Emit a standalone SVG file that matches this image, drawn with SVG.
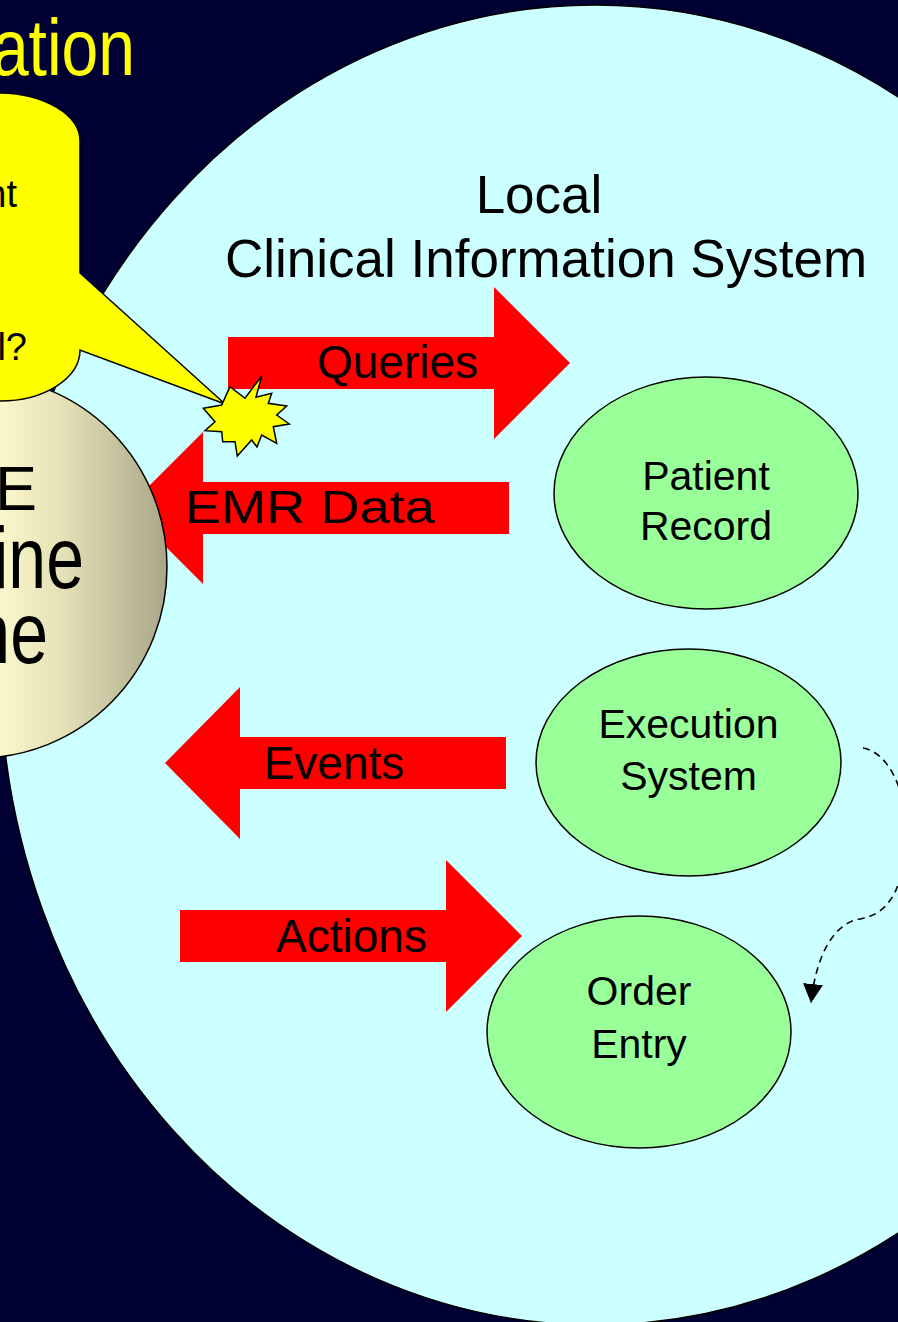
<svg xmlns="http://www.w3.org/2000/svg" width="898" height="1322" viewBox="0 0 898 1322">
<style>
text{font-family:"Liberation Sans",Arial,sans-serif;fill:#000}
.blk{fill:#FF0000;stroke:none}
.lbl{font-size:46px}
.green{fill:#99FF99;stroke:#000;stroke-width:1.5}
.gt{font-size:41px;text-anchor:middle}
.yel{fill:#FFFF00;stroke:#000;stroke-width:1.5;stroke-linejoin:miter}
</style>
<defs>
<linearGradient id="beige" gradientUnits="userSpaceOnUse" x1="0" y1="0" x2="170" y2="0">
<stop offset="0" stop-color="#FAF7CB"/>
<stop offset="0.35" stop-color="#E6E2B8"/>
<stop offset="1" stop-color="#A8A588"/>
</linearGradient>
<marker id="ah" markerWidth="20" markerHeight="20" viewBox="0 0 20 20" refX="19" refY="10" orient="auto" markerUnits="userSpaceOnUse">
<path d="M0,0 L19,10 L0,20 Z" fill="#000"/>
</marker>
</defs>
<rect x="0" y="0" width="898" height="1322" fill="#000033"/>
<g id="title">
<text x="0" y="0" font-size="66" text-anchor="end" style="fill:#FFFF00" transform="translate(135,75) scale(1,1.22)">ation</text>
</g>
<g id="local-cis">
<ellipse cx="595" cy="665" rx="595" ry="660" fill="#CCFFFF" stroke="#000" stroke-width="1.5"/>
<text x="539" y="213" font-size="53" text-anchor="middle">Local</text>
<text x="546" y="277" font-size="53" text-anchor="middle">Clinical Information System</text>
</g>
<g id="arrow-queries">
<path class="blk" d="M228,337 L494,337 L494,287 L570,363 L494,439 L494,389 L228,389 Z"/>
<text class="lbl" x="397.5" y="378" text-anchor="middle">Queries</text>
</g>
<g id="arrow-emr">
<path class="blk" d="M509,482 L203,482 L203,432 L127,508 L203,584 L203,534 L509,534 Z"/>
<text x="185" y="523" font-size="47" textLength="250" lengthAdjust="spacingAndGlyphs">EMR Data</text>
</g>
<g id="arrow-events">
<path class="blk" d="M506,737 L240,737 L240,687 L165,763 L240,839 L240,789 L506,789 Z"/>
<text class="lbl" x="334" y="779" text-anchor="middle">Events</text>
</g>
<g id="arrow-actions">
<path class="blk" d="M180,910 L446,910 L446,860 L522,936 L446,1012 L446,962 L180,962 Z"/>
<text class="lbl" x="351.5" y="952" text-anchor="middle">Actions</text>
</g>
<g id="patient-record">
<ellipse class="green" cx="706" cy="493" rx="152" ry="116"/>
<text class="gt" x="706" y="490">Patient</text>
<text class="gt" x="706" y="540">Record</text>
</g>
<g id="execution-system">
<ellipse class="green" cx="688.5" cy="762.5" rx="152.5" ry="113.5"/>
<text class="gt" x="688.5" y="738">Execution</text>
<text class="gt" x="688.5" y="790">System</text>
</g>
<g id="order-entry">
<ellipse class="green" cx="639" cy="1032" rx="152" ry="116"/>
<text class="gt" x="639" y="1005">Order</text>
<text class="gt" x="639" y="1058">Entry</text>
</g>
<g id="connectors">
<path d="M863,748 C888,752 906,790 906,830 C906,880 893,914 860,919 C834,923 816,955 811,1003" fill="none" stroke="#000" stroke-width="1.6" stroke-dasharray="7,5" marker-end="url(#ah)"/>
</g>
<g id="engine">
<ellipse cx="-22" cy="567" rx="189" ry="191" fill="url(#beige)" stroke="#000" stroke-width="1.5"/>
<text x="37" y="510" font-size="63" text-anchor="end">E</text>
<text x="0" y="0" font-size="68" text-anchor="end" transform="translate(84,588) scale(1,1.27)">ine</text>
<text x="0" y="0" font-size="68" text-anchor="end" transform="translate(48,663) scale(1,1.27)">ne</text>
</g>
<g id="callout">
<path class="yel" d="M-200,93 L0,93 A82,48 0 0 1 80,141 L80,273 L225,404 L80,350 A80,51 0 0 1 0,401 L-200,401 Z"/>
<text x="17" y="207" font-size="38" text-anchor="end">nt</text>
<text x="27" y="360" font-size="38" text-anchor="end">l?</text>
</g>
<g id="burst">
<polygon class="yel" points="261.7,376 256,397.3 271.7,393.3 268.3,403.3 286.7,406 276.7,415 289.3,424 273.3,426.7 276.7,443.3 261.7,435 257,447 251.7,440 237.3,456 235,441.7 222.7,441.7 221.7,431.7 205,430.7 215,421.7 203.3,408.3 221.7,405 230,386.7 245,398.3"/>
</g>
</svg>
